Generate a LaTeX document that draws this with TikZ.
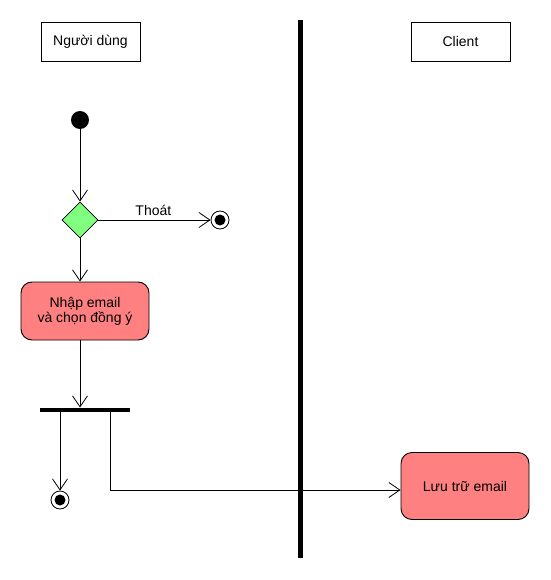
\documentclass[tikz,border=0pt]{standalone}
\usepackage{fontspec}
\setmainfont{Liberation Sans}
\usetikzlibrary{arrows.meta,shapes.geometric}
\definecolor{actred}{RGB}{255,128,128}
\definecolor{decgreen}{RGB}{128,255,128}
\begin{document}
\begin{tikzpicture}[x=1pt,y=-1pt,
  every node/.style={font=\fontsize{14}{16}\selectfont},
  lanebox/.style={draw,line width=0.9pt,minimum width=99pt,minimum height=39pt,inner sep=0},
  actbox/.style={draw,line width=0.9pt,fill=actred,rounded corners=11pt,minimum width=128pt,inner sep=0,align=center},
  startnode/.style={circle,fill=black,minimum size=18pt,inner sep=0},
  endnode/.style={circle,draw,line width=0.8pt,fill=white,minimum size=18pt,inner sep=0,
    path picture={\fill[black] (path picture bounding box.center) circle (5.5pt);}},
  decnode/.style={diamond,draw,line width=0.8pt,fill=decgreen,minimum width=36pt,minimum height=36pt,inner sep=0},
  flow/.style={line width=0.8pt,-{Straight Barb[length=11pt,width=15pt,line width=0.8pt]}},
  plain/.style={line width=0.8pt}]
\useasboundingbox (0,0) rectangle (550,580);
% swimlane headers
\node[lanebox] (user) at (90.5,41.5) {Người dùng};
\node[lanebox] (client) at (460.5,41.5) {Client};
% lane separator
\coordinate (septop) at (300,20);
\coordinate (sepbot) at (300,558);
\draw[line width=5pt] (septop) -- (sepbot);
% nodes
\node[startnode] (start) at (80,120) {};
\node[decnode] (dec) at (80,220) {};
\node[endnode] (exit) at (220,220) {};
\node[actbox,minimum height=58pt] (enter) at (85,311) {Nhập email\\[-1pt]và chọn đồng ý};
\node[fill=black,minimum width=90pt,minimum height=4.5pt,inner sep=0] (bar) at (85,410) {};
\node[endnode] (done) at (60,500) {};
\node[actbox,minimum height=67pt] (store) at (465,486) {Lưu trữ email};
% connectors
\draw[flow] (start) -- (dec.north);
\draw[flow] (dec.east) -- node[above=1pt,pos=0.49] (thoat) {Thoát} (exit);
\draw[flow] (dec.south) -- (enter.north -| dec.south);
\draw[flow] (enter.south -| dec.south) -- (bar.north -| dec.south);
\coordinate (b1) at ([xshift=-25pt]bar.south);
\coordinate (b2) at ([xshift=25pt]bar.south);
\coordinate (turn) at (110,490);
\draw[flow] (b1) -- (done);
\draw[flow] (b2) -- (turn) -- (store.west |- turn);
\end{tikzpicture}
\end{document}
